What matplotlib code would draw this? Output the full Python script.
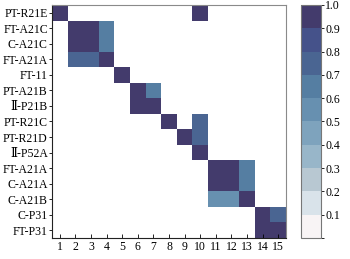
import numpy as np
import matplotlib
matplotlib.use("Agg")
import matplotlib.pyplot as plt
from matplotlib.colors import ListedColormap, BoundaryNorm

plt.rcParams['font.family'] = ['Liberation Serif', 'DejaVu Serif']

rows = ['PT-R21E', 'FT-A21C', 'C-A21C', 'FT-A21A', 'FT-11', 'PT-A21B', 'Ⅱ-P21B',
        'PT-R21C', 'PT-R21D', 'Ⅱ-P52A', 'FT-A21A', 'C-A21A', 'C-A21B', 'C-P31', 'FT-P31']
cols = list(range(1, 16))

# (row index, column number, value)
cells = [
    (0, 1, 1.0), (0, 10, 1.0),
    (1, 2, 1.0), (1, 3, 1.0), (1, 4, 0.65),
    (2, 2, 1.0), (2, 3, 1.0), (2, 4, 0.65),
    (3, 2, 0.78), (3, 3, 0.78), (3, 4, 1.0),
    (4, 5, 1.0),
    (5, 6, 1.0), (5, 7, 0.65),
    (6, 6, 1.0), (6, 7, 1.0),
    (7, 8, 1.0), (7, 10, 0.72),
    (8, 9, 1.0), (8, 10, 0.78),
    (9, 10, 1.0),
    (10, 11, 1.0), (10, 12, 1.0), (10, 13, 0.62),
    (11, 11, 1.0), (11, 12, 1.0), (11, 13, 0.62),
    (12, 11, 0.58), (12, 12, 0.58), (12, 13, 1.0),
    (13, 14, 1.0), (13, 15, 0.78),
    (14, 14, 1.0), (14, 15, 1.0),
]

level_colors = ['#f8f4f5', '#d9e3ea', '#b8c8d2', '#98b6c9', '#7ea3bd',
                '#6790b0', '#557ea2', '#4a6592', '#45528a', '#433b6c']
bounds = np.linspace(0, 1, 11)


def main():
    mat = np.zeros((len(rows), len(cols)))
    for r, c, v in cells:
        mat[r, c - 1] = v
    mat = np.ma.masked_equal(mat, 0)

    cmap = ListedColormap(level_colors)
    norm = BoundaryNorm(bounds, cmap.N)

    fig = plt.figure(figsize=(3.5, 2.59), dpi=100)
    ax = fig.add_axes([0.1486, 0.0811, 0.6686, 0.8996])
    cax = fig.add_axes([0.86, 0.0811, 0.0571, 0.8996])

    x = np.arange(len(cols) + 1) + 0.5
    y = np.arange(len(rows) + 1) - 0.5
    mesh = ax.pcolormesh(x, y, mat, cmap=cmap, norm=norm)
    ax.set_xlim(0.5, 15.5)
    ax.set_ylim(14.5, -0.5)
    ax.set_xticks(cols)
    ax.set_xticklabels([str(c) for c in cols], fontsize=8.5)
    ax.set_yticks(range(len(rows)))
    ax.set_yticklabels(rows, fontsize=8.5)
    ax.tick_params(axis='x', direction='in', length=3, width=0.6, pad=2)
    ax.tick_params(axis='y', direction='out', length=2, width=0.6, pad=1)
    for s in ['top', 'right']:
        ax.spines[s].set_color('#8a8a8a')
    for s in ['left', 'bottom']:
        ax.spines[s].set_color('#222222')
    for s in ax.spines.values():
        s.set_linewidth(0.8)

    cb = fig.colorbar(mesh, cax=cax, boundaries=bounds, ticks=bounds[1:])
    cb.set_ticklabels(['%.1f' % t for t in bounds[1:]])
    cb.ax.tick_params(labelsize=8.5, length=2, width=0.6, pad=1)
    cb.outline.set_edgecolor('#777777')
    cb.outline.set_linewidth(0.8)

    fig.savefig('out.png', dpi=100)


if __name__ == "__main__":
    main()
